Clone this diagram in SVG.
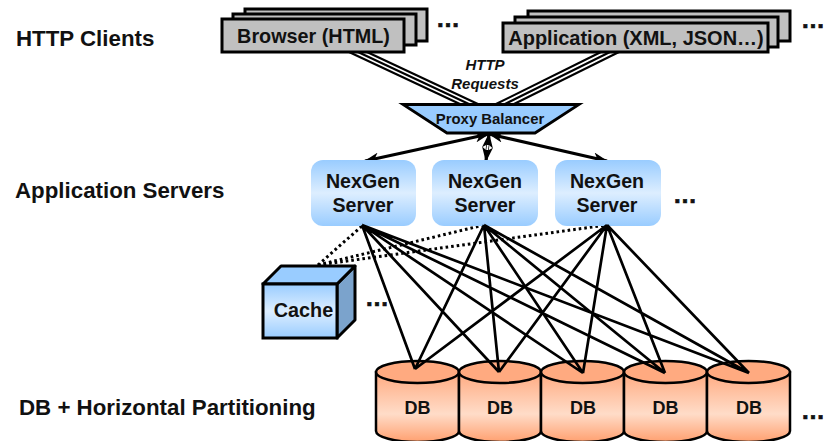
<svg xmlns="http://www.w3.org/2000/svg" width="825" height="441" viewBox="0 0 825 441">
<style>
text{font-family:"Liberation Sans",Arial,sans-serif;font-weight:bold;fill:#111}
.h{font-size:22.3px}
.m{text-anchor:middle}
.b{fill:#c0c0c0;stroke:#000;stroke-width:3}
.s{fill:url(#sg)}
.l{font-size:19.6px;text-anchor:middle}
.d{fill:url(#dg);stroke:#000;stroke-width:2.5}
.t{fill:#ffaa80;stroke:#000;stroke-width:2.5}
.dots{font-size:24px;stroke:#111;stroke-width:.7}
#connectors line{stroke:#000}
.tr{stroke-width:2.1}
.a{stroke-width:3.2}
.o{stroke-width:3;stroke-dasharray:2.6 3}
</style>
<defs>
<linearGradient id="sg" x1="0" y1="0" x2="0" y2="1"><stop offset="0" stop-color="#99ccff"/><stop offset=".5" stop-color="#ddeeff"/><stop offset="1" stop-color="#99ccff"/></linearGradient>
<linearGradient id="dg" x1="0" y1="0" x2="0" y2="1"><stop offset="0" stop-color="#ffaa80"/><stop offset=".6" stop-color="#ffdcc8"/><stop offset="1" stop-color="#ffa070"/></linearGradient>
<marker id="ah" viewBox="0 0 15 11" refX="14" refY="5.500" markerWidth="15" markerHeight="11" markerUnits="userSpaceOnUse" orient="auto-start-reverse"><path d="M0 0L15 5.500L0 11L4 5.500Z" fill="#000"/></marker>
</defs>
<g id="connectors">
<line class="tr" x1="349" y1="52" x2="462" y2="105"/><line class="tr" x1="358" y1="52" x2="471" y2="105"/><line class="tr" x1="367" y1="52" x2="480" y2="105"/>
<line class="tr" x1="601" y1="52" x2="494" y2="105"/><line class="tr" x1="610" y1="52" x2="503" y2="105"/><line class="tr" x1="619" y1="52" x2="512" y2="105"/>
<line class="a" x1="489" y1="134" x2="365" y2="161" marker-start="url(#ah)" marker-end="url(#ah)"/>
<line class="a" x1="489" y1="134" x2="607" y2="161" marker-start="url(#ah)" marker-end="url(#ah)"/>
<line class="a" x1="489" y1="134" x2="486" y2="161" marker-start="url(#ah)" marker-end="url(#ah)"/>
<line x1="487.800" y1="145" x2="487.200" y2="150" style="stroke:#fff;stroke-width:1.800"/>
<line class="o" x1="318" y1="265" x2="362" y2="226"/><line class="o" x1="318" y1="265" x2="484" y2="225"/><line class="o" x1="318" y1="265" x2="607" y2="225"/>
</g>
<g id="clients-label"><text class="h" x="16" y="46">HTTP Clients</text></g>
<g id="servers-label"><text class="h" x="15" y="198">Application Servers</text></g>
<g id="db-label"><text class="h" x="19" y="415">DB + Horizontal Partitioning</text></g>
<g id="browser">
<rect class="b" x="245" y="9" width="182" height="32"/><rect class="b" x="233" y="14" width="183" height="31"/><rect class="b" x="222" y="19" width="182" height="33"/>
<text class="m" x="313.500" y="43" font-size="19.800">Browser (HTML)</text>
<text class="dots" x="436" y="27">…</text>
</g>
<g id="application">
<rect class="b" x="528" y="11" width="262" height="30"/><rect class="b" x="515" y="17" width="263" height="30"/><rect class="b" x="503" y="23" width="265" height="29"/>
<text class="m" x="636" y="45" font-size="20">Application (XML, JSON…)</text>
<text class="dots" x="801" y="28">…</text>
</g>
<g id="requests-label"><text class="m" x="485" y="70" font-size="15" font-style="italic">HTTP</text><text class="m" x="485" y="89" font-size="15" font-style="italic">Requests</text></g>
<g id="proxy">
<path d="M403 104.500H579L535 133H447Z" fill="#99ccff" stroke="#000" stroke-width="2.800"/>
<text class="m" x="490" y="124" font-size="14.900">Proxy Balancer</text>
</g>
<g id="server-1"><rect class="s" x="311" y="160" width="105" height="66" rx="12"/><text class="l" x="363" y="188">NexGen</text><text class="l" x="363" y="212">Server</text></g>
<g id="server-2"><rect class="s" x="432" y="160" width="106" height="66" rx="12"/><text class="l" x="485" y="188">NexGen</text><text class="l" x="485" y="212">Server</text></g>
<g id="server-3"><rect class="s" x="555" y="160" width="106" height="66" rx="12"/><text class="l" x="607" y="188">NexGen</text><text class="l" x="607" y="212">Server</text><text class="dots" x="673" y="203">…</text></g>
<g id="cache">
<path d="M337 284L355 266V320L337 338Z" fill="#7ba3cc" stroke="#000" stroke-width="3" stroke-linejoin="round"/>
<path d="M263 284L281 266H355L337 284Z" fill="#99ccff" stroke="#000" stroke-width="3" stroke-linejoin="round"/>
<rect class="s" x="263" y="284" width="74" height="54" stroke="#000" stroke-width="3"/>
<text class="m" x="303.500" y="317" font-size="19.800">Cache</text>
<text class="dots" x="365" y="306">…</text>
</g>
<g id="db-1"><path class="d" d="M376 372V431A41.500 11 0 0 0 459 431V372Z"/><ellipse class="t" cx="417.500" cy="372" rx="41.500" ry="11"/><text class="m" x="417.500" y="414" font-size="18">DB</text></g>
<g id="db-2"><path class="d" d="M459 372V431A41 11 0 0 0 541 431V372Z"/><ellipse class="t" cx="500" cy="372" rx="41" ry="11"/><text class="m" x="500" y="414" font-size="18">DB</text></g>
<g id="db-3"><path class="d" d="M541 372V431A41.500 11 0 0 0 624 431V372Z"/><ellipse class="t" cx="582.500" cy="372" rx="41.500" ry="11"/><text class="m" x="583" y="414" font-size="18">DB</text></g>
<g id="db-4"><path class="d" d="M624 372V431A41.500 11 0 0 0 707 431V372Z"/><ellipse class="t" cx="665.500" cy="372" rx="41.500" ry="11"/><text class="m" x="665.500" y="414" font-size="18">DB</text></g>
<g id="db-5"><path class="d" d="M707 372V431A41.500 11 0 0 0 790 431V372Z"/><ellipse class="t" cx="748.500" cy="372" rx="41.500" ry="11"/><text class="m" x="749" y="414" font-size="18">DB</text><text class="dots" x="801" y="419">…</text></g>
<g id="connectors-db" stroke="#000" stroke-width="2.700">
<path fill="none" d="M362 225L415 369M362 225L499 372M362 225L583 373M362 225L665 373M362 225L749 373M484 225L415 369M484 225L499 372M484 225L583 373M484 225L665 373M484 225L749 373M607 225L415 369M607 225L499 372M607 225L583 373M607 225L665 373M607 225L749 373"/>
</g>
</svg>
